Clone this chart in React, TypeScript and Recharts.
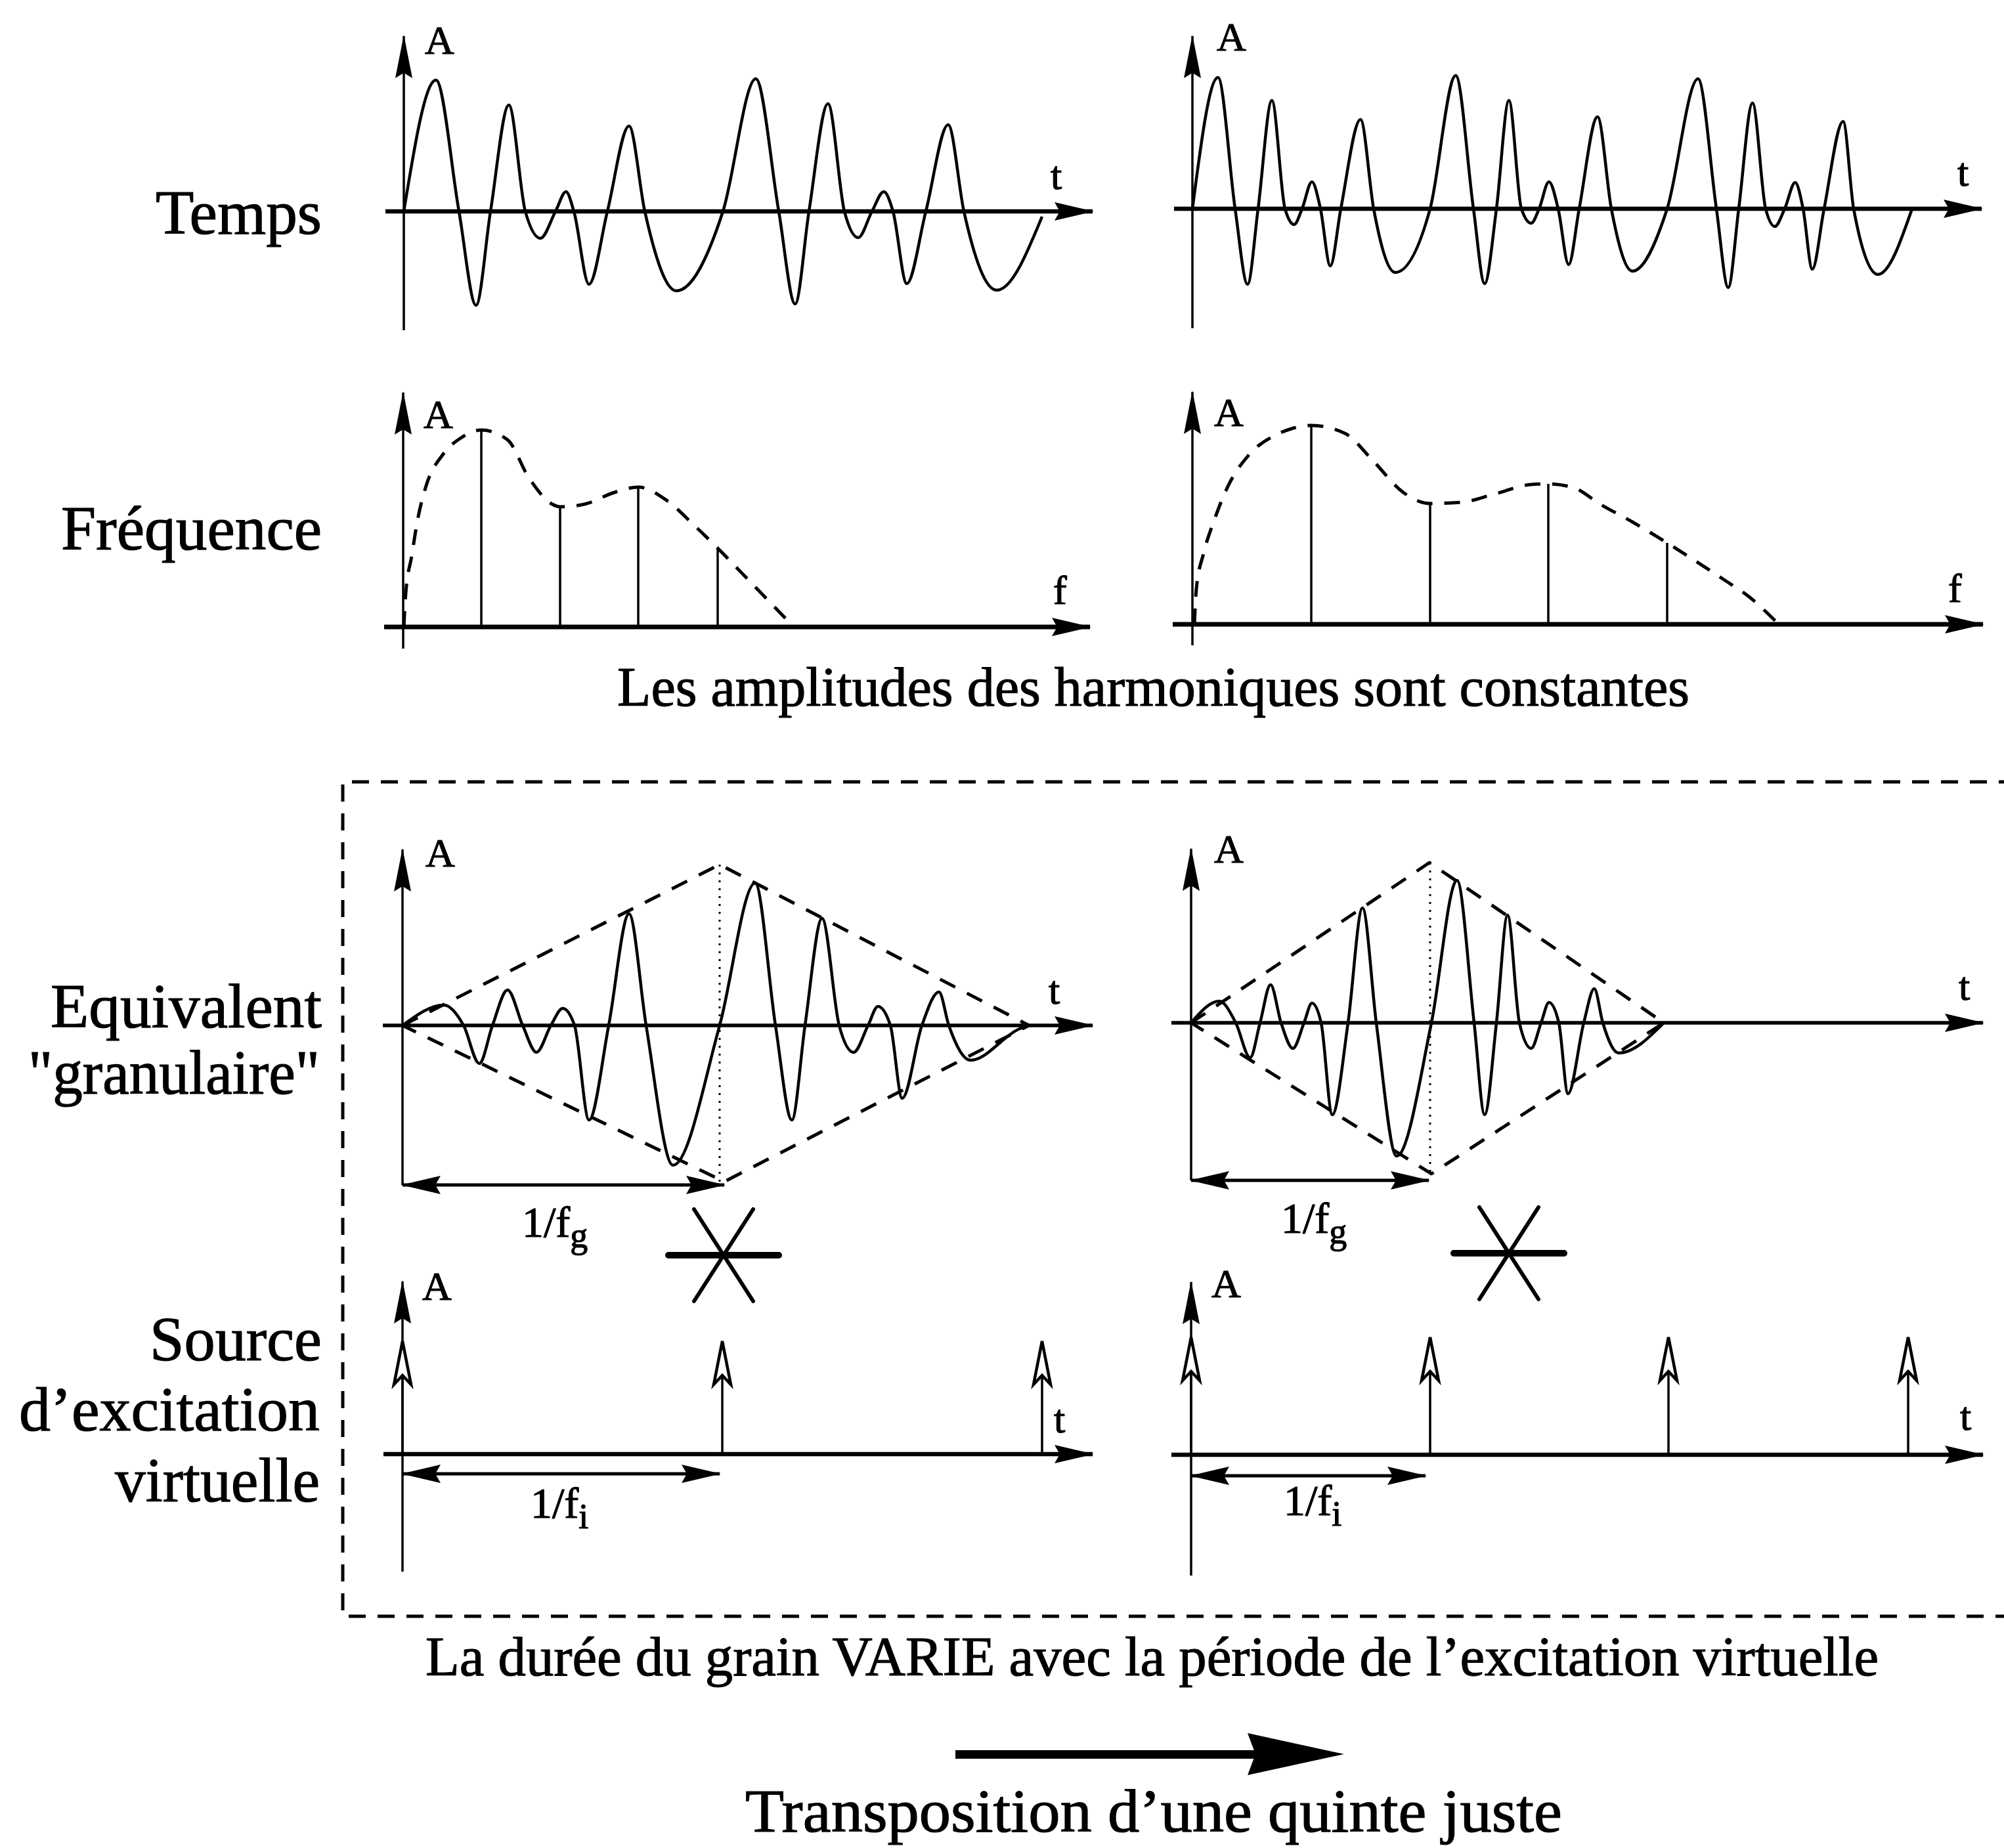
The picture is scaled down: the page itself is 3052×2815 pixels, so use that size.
import React from 'react';
import { ComposedChart, Line, Scatter, XAxis, YAxis } from 'recharts';

type Pt = { t: number; a: number };
const pts = (arr: number[][]): Pt[] => arr.map(([t, a]) => ({ t, a }));

// ---------- DATA (t = time / frequency units, a = amplitude units) ----------
const tempsLeft = pts([
  [0, 0], [0.49, 2.0], [0.84, 0], [1.1, -1.43], [1.32, 0], [1.6, 1.62], [1.85, 0], [2.08, -0.41],
  [2.31, 0], [2.47, 0.3], [2.59, 0], [2.82, -1.11], [3.1, 0], [3.43, 1.3], [3.67, 0], [4.15, -1.21],
  [4.86, 0], [5.36, 2.02], [5.71, 0], [5.96, -1.41], [6.17, 0], [6.46, 1.64], [6.71, 0], [6.92, -0.4],
  [7.13, 0], [7.31, 0.3], [7.45, 0], [7.66, -1.1], [7.95, 0], [8.29, 1.32], [8.53, 0], [9.03, -1.2],
  [9.72, -0.08],
]);
const tempsRight = pts([
  [0, 0], [0.39, 2.0], [0.65, 0], [0.84, -1.15], [1.0, 0], [1.21, 1.65], [1.41, 0], [1.55, -0.24],
  [1.67, 0], [1.82, 0.41], [1.95, 0], [2.1, -0.87], [2.26, 0], [2.56, 1.36], [2.76, 0], [3.09, -0.97],
  [3.62, 0], [4.01, 2.03], [4.28, 0], [4.45, -1.14], [4.63, 0], [4.82, 1.65], [5.01, 0], [5.16, -0.22],
  [5.28, 0], [5.43, 0.41], [5.57, 0], [5.73, -0.85], [5.89, 0], [6.17, 1.4], [6.38, 0], [6.7, -0.95],
  [7.23, 0], [7.7, 1.98], [7.98, 0], [8.16, -1.2], [8.32, 0], [8.53, 1.61], [8.73, 0], [8.87, -0.27],
  [9.02, 0], [9.18, 0.4], [9.3, 0], [9.44, -0.92], [9.62, 0], [9.91, 1.33], [10.07, 0], [10.44, -1.0],
  [10.96, 0],
]);

const freqLeftEnvelope = pts([
  [0.01, 0], [0.04, 0.52], [0.13, 1.08], [0.21, 1.58], [0.35, 2.15], [0.6, 2.62], [0.88, 2.88],
  [1.19, 3.0], [1.59, 2.85], [1.91, 2.28], [2.27, 1.87], [2.39, 1.83], [2.76, 1.87], [3.22, 2.05],
  [3.58, 2.13], [4.01, 1.93], [4.43, 1.55], [4.79, 1.2], [5.35, 0.62], [5.92, 0.03],
]);
const freqLeftHarmonics = pts([[1.19, 3.0], [2.39, 1.83], [3.58, 2.13], [4.79, 1.2]]);

const freqRightEnvelope = pts([
  [0.03, 0], [0.06, 0.54], [0.17, 1.08], [0.33, 1.58], [0.53, 2.08], [0.86, 2.58], [1.26, 2.88],
  [1.51, 2.98], [1.81, 3.03], [2.32, 2.91], [2.76, 2.48], [3.21, 2.01], [3.62, 1.84], [4.1, 1.86],
  [4.59, 1.98], [5.16, 2.13], [5.42, 2.14], [5.81, 2.08], [6.21, 1.83], [6.7, 1.56], [7.23, 1.24],
  [7.59, 1.01], [8.08, 0.69], [8.49, 0.41], [8.89, 0.04],
]);
const freqRightHarmonics = pts([[1.81, 3.03], [3.62, 1.84], [5.42, 2.14], [7.23, 1.24]]);

const grainLeft = pts([
  [0, 0], [0.63, 0.31], [0.93, 0], [1.17, -0.58], [1.37, 0], [1.6, 0.54], [1.83, 0], [2.04, -0.41],
  [2.26, 0], [2.44, 0.26], [2.62, 0], [2.84, -1.44], [3.14, 0], [3.45, 1.7], [3.71, 0], [4.12, -2.13],
  [4.83, 0], [5.37, 2.17], [5.68, 0], [5.93, -1.44], [6.13, 0], [6.39, 1.63], [6.65, 0], [6.87, -0.41],
  [7.09, 0], [7.24, 0.29], [7.43, 0], [7.61, -1.11], [7.91, 0], [8.17, 0.51], [8.32, 0], [8.65, -0.53],
  [9.4, -0.05], [9.54, 0],
]);
const grainLeftEnvelope = pts([[0, 0], [4.83, 2.45], [9.54, 0], [4.9, -2.38], [0, 0]]);
const grainLeftCentre = pts([[4.83, 2.45], [4.83, -2.4]]);
const grainLeftPeriod = 4.9;

const grainRight = pts([
  [0, 0], [0.43, 0.33], [0.68, 0], [0.9, -0.53], [1.05, 0], [1.21, 0.58], [1.37, 0], [1.55, -0.39],
  [1.72, 0], [1.84, 0.3], [1.98, 0], [2.15, -1.4], [2.39, 0], [2.61, 1.75], [2.82, 0], [3.13, -2.03],
  [3.66, 0], [4.05, 2.17], [4.31, 0], [4.47, -1.4], [4.65, 0], [4.82, 1.64], [5.0, 0], [5.18, -0.39],
  [5.33, 0], [5.45, 0.31], [5.6, 0], [5.74, -1.08], [5.98, 0], [6.14, 0.52], [6.27, 0], [6.51, -0.46],
  [7.2, 0],
]);
const grainRightEnvelope = pts([[0, 0], [3.63, 2.44], [7.2, 0], [3.66, -2.3], [0, 0]]);
const grainRightCentre = pts([[3.64, 2.44], [3.64, -2.32]]);
const grainRightPeriod = 3.62;

const sourceLeftImpulses = [0, 4.87, 9.74];
const sourceLeftHeight = 1.72;
const sourceLeftPeriod = 4.83;
const sourceRightImpulses = [0, 3.64, 7.27, 10.92];
const sourceRightHeight = 1.79;
const sourceRightPeriod = 3.57;

// ---------- DRAWING HELPERS ----------
const INK = '#000';
const PX = 100; // pixels per data unit
const HL = 58;
const HW = 14;

const HeadRight = (p: any) => (
  <polygon points={`${p.cx + 2},${p.cy} ${p.cx - HL},${p.cy - HW} ${p.cx - HL + 8},${p.cy} ${p.cx - HL},${p.cy + HW}`} fill={INK} />
);
const HeadLeft = (p: any) => (
  <polygon points={`${p.cx - 2},${p.cy} ${p.cx + HL},${p.cy - HW} ${p.cx + HL - 8},${p.cy} ${p.cx + HL},${p.cy + HW}`} fill={INK} />
);
const HeadUp = (p: any) => (
  <polygon points={`${p.cx},${p.cy - 2} ${p.cx - 13},${p.cy + HL + 6} ${p.cx},${p.cy + HL - 2} ${p.cx + 13},${p.cy + HL + 6}`} fill={INK} />
);
const OpenHeadUp = (p: any) => (
  <polygon
    points={`${p.cx},${p.cy} ${p.cx - 13},${p.cy + 66} ${p.cx},${p.cy + 52} ${p.cx + 13},${p.cy + 66}`}
    fill="#fff" stroke={INK} strokeWidth={4.5} strokeLinejoin="miter"
  />
);

const ln = (key: string, data: Pt[], w: number, opts: { type?: any; dash?: string } = {}) => (
  <Line
    key={key}
    data={data}
    dataKey="a"
    type={opts.type ?? 'linear'}
    stroke={INK}
    strokeWidth={w}
    strokeDasharray={opts.dash}
    dot={false}
    activeDot={false}
    isAnimationActive={false}
    legendType="none"
    strokeLinejoin="round"
  />
);
const hd = (key: string, data: Pt[], shape: any) => (
  <Scatter key={key} data={data} dataKey="a" shape={shape} isAnimationActive={false} legendType="none" />
);

const axes = (id: string, xr: number[], yr: number[], xw: number) => [
  ln(id + 'xa', pts([[xr[0], 0], [xr[1], 0]]), xw),
  ln(id + 'ya', pts([[0, yr[0]], [0, yr[1]]]), 3.5),
  hd(id + 'xh', pts([[xr[1], 0]]), HeadRight),
  hd(id + 'yh', pts([[0, yr[1]]]), HeadUp),
];

const span = (id: string, y: number, end: number) => [
  ln(id + 'sl', pts([[0, y], [end, y]]), 5),
  hd(id + 'sh1', pts([[0, y]]), HeadLeft),
  hd(id + 'sh2', pts([[end, y]]), HeadRight),
];

function Panel(props: { ox: number; oy: number; xr: number[]; yr: number[]; children: any }) {
  const { ox, oy, xr, yr, children } = props;
  const left = ox + xr[0] * PX;
  const top = oy - yr[1] * PX;
  const w = (xr[1] - xr[0]) * PX;
  const h = (yr[1] - yr[0]) * PX;
  return (
    <div style={{ position: 'absolute', left, top, width: w, height: h }}>
      <ComposedChart width={w} height={h} margin={{ top: 0, right: 0, bottom: 0, left: 0 }}>
        <XAxis type="number" dataKey="t" domain={[xr[0], xr[1]]} hide allowDataOverflow />
        <YAxis type="number" dataKey="a" domain={[yr[0], yr[1]]} hide allowDataOverflow />
        {children}
      </ComposedChart>
    </div>
  );
}

const Star = ({ cx, cy }: { cx: number; cy: number }) => (
  <g stroke={INK} strokeLinecap="round">
    <line x1={cx - 84} y1={cy} x2={cx + 84} y2={cy} strokeWidth={10} />
    <line x1={cx - 45} y1={cy + 70} x2={cx + 45} y2={cy - 70} strokeWidth={6} />
    <line x1={cx + 45} y1={cy + 70} x2={cx - 45} y2={cy - 70} strokeWidth={6} />
  </g>
);

const rowLabels = [
  { s: 'Temps', right: 490, y: 356, w: 253 },
  { s: 'Fréquence', right: 490, y: 837, w: 397 },
  { s: 'Equivalent', right: 490, y: 1565, w: 413 },
  { s: '"granulaire"', right: 487, y: 1666, w: 444 },
  { s: 'Source', right: 490, y: 2072, w: 262 },
  { s: 'd\u2019excitation', right: 487, y: 2179, w: 458 },
  { s: 'virtuelle', right: 487, y: 2287, w: 312 },
];
const axisLabels = [
  { s: 'A', x: 647, y: 82 }, { s: 't', x: 1600, y: 288 },
  { s: 'A', x: 1853, y: 77 }, { s: 't', x: 2981, y: 283 },
  { s: 'A', x: 645, y: 652 }, { s: 'f', x: 1604, y: 920 },
  { s: 'A', x: 1849, y: 649 }, { s: 'f', x: 2967, y: 917 },
  { s: 'A', x: 648, y: 1320 }, { s: 't', x: 1597, y: 1529 },
  { s: 'A', x: 1849, y: 1314 }, { s: 't', x: 2983, y: 1523 },
  { s: 'A', x: 643, y: 1980 }, { s: 't', x: 1605, y: 2182 },
  { s: 'A', x: 1845, y: 1976 }, { s: 't', x: 2985, y: 2178 },
];
const periodLabels = [
  { sub: 'g', x: 795, y: 1884 },
  { sub: 'g', x: 1951, y: 1878 },
  { sub: 'i', x: 808, y: 2312 },
  { sub: 'i', x: 1955, y: 2308 },
];
const captions = [
  { s: 'Les amplitudes des harmoniques sont constantes', x: 940, y: 1075, w: 1633, fs: 85 },
  { s: 'La durée du grain VARIE avec la période de l\u2019excitation virtuelle', x: 648, y: 2552, w: 2213, fs: 85 },
  { s: 'Transposition d\u2019une quinte juste', x: 1135, y: 2790, w: 1244, fs: 94 },
];

const FONT = "'Liberation Serif', 'Times New Roman', 'DejaVu Serif', serif";
const textStyle = { fontFamily: FONT } as const;

export default function App() {
  return (
    <div style={{ position: 'absolute', left: 0, top: 0, width: 3052, height: 2815, background: '#fff', overflow: 'hidden' }}>
      {/* Temps */}
      <Panel ox={615} oy={322} xr={[-0.6, 10.8]} yr={[-2.0, 2.9]}>
        {axes('tl', [-0.28, 10.49], [-1.81, 2.67], 6.5)}
        {ln('tlw', tempsLeft, 4.5, { type: 'monotone' })}
      </Panel>
      <Panel ox={1816} oy={318} xr={[-0.6, 12.2]} yr={[-2.0, 2.9]}>
        {axes('tr', [-0.28, 12.02], [-1.82, 2.63], 6.5)}
        {ln('trw', tempsRight, 4.5, { type: 'monotone' })}
      </Panel>

      {/* Fréquence */}
      <Panel ox={614} oy={955} xr={[-0.6, 10.8]} yr={[-0.5, 3.8]}>
        {axes('fl', [-0.29, 10.46], [-0.33, 3.57], 7)}
        {freqLeftHarmonics.map((h, i) => ln('flh' + i, [{ t: h.t, a: 0 }, h], 3.5))}
        {ln('fle', freqLeftEnvelope, 5, { type: 'monotone', dash: '24 18' })}
      </Panel>
      <Panel ox={1816} oy={951} xr={[-0.6, 12.2]} yr={[-0.5, 3.8]}>
        {axes('fr', [-0.3, 12.04], [-0.32, 3.54], 7)}
        {freqRightHarmonics.map((h, i) => ln('frh' + i, [{ t: h.t, a: 0 }, h], 3.5))}
        {ln('fre', freqRightEnvelope, 5, { type: 'monotone', dash: '24 18' })}
      </Panel>

      {/* Equivalent granulaire */}
      <Panel ox={613} oy={1562} xr={[-0.6, 10.8]} yr={[-2.7, 2.9]}>
        {axes('gl', [-0.3, 10.51], [-2.43, 2.68], 5.5)}
        {ln('glc', grainLeftCentre, 3, { dash: '3 9' })}
        {ln('gle', grainLeftEnvelope, 5, { dash: '26 20' })}
        {ln('glw', grainLeft, 4.5, { type: 'monotone' })}
        {span('gls', -2.43, grainLeftPeriod)}
      </Panel>
      <Panel ox={1814} oy={1558} xr={[-0.6, 12.2]} yr={[-2.7, 2.9]}>
        {axes('gr', [-0.3, 12.06], [-2.4, 2.65], 5.5)}
        {ln('grc', grainRightCentre, 3, { dash: '3 9' })}
        {ln('gre', grainRightEnvelope, 5, { dash: '26 20' })}
        {ln('grw', grainRight, 4.5, { type: 'monotone' })}
        {span('grs', -2.4, grainRightPeriod)}
      </Panel>

      {/* Source d'excitation virtuelle */}
      <Panel ox={613} oy={2215} xr={[-0.6, 10.8]} yr={[-2.0, 2.9]}>
        {axes('sl', [-0.29, 10.51], [-1.79, 2.63], 6.5)}
        {sourceLeftImpulses.map((t, i) => ln('sli' + i, pts([[t, 0], [t, sourceLeftHeight]]), 3.5))}
        {hd('slh', sourceLeftImpulses.map((t) => ({ t, a: sourceLeftHeight })), OpenHeadUp)}
        {span('sls', -0.3, sourceLeftPeriod)}
      </Panel>
      <Panel ox={1814} oy={2216} xr={[-0.6, 12.2]} yr={[-2.0, 2.9]}>
        {axes('sr', [-0.3, 12.06], [-1.84, 2.63], 6.5)}
        {sourceRightImpulses.map((t, i) => ln('sri' + i, pts([[t, 0], [t, sourceRightHeight]]), 3.5))}
        {hd('srh', sourceRightImpulses.map((t) => ({ t, a: sourceRightHeight })), OpenHeadUp)}
        {span('srs', -0.32, sourceRightPeriod)}
      </Panel>

      {/* Text, frame and decorations */}
      <svg width={3052} height={2815} style={{ position: 'absolute', left: 0, top: 0, pointerEvents: 'none', ...textStyle }}>
        <path d="M 3070 1191 H 522 V 2462 H 3070" fill="none" stroke={INK} strokeWidth={5} strokeDasharray="26 18" />
        <g fill={INK} stroke={INK} strokeWidth={1.2} style={textStyle}>
          {rowLabels.map((l) => (
            <text key={l.s} x={l.right} y={l.y} textAnchor="end" fontSize={96} textLength={l.w} lengthAdjust="spacingAndGlyphs">
              {l.s}
            </text>
          ))}
          {axisLabels.map((l, i) => (
            <text key={'ax' + i} x={l.x} y={l.y} fontSize={62}>
              {l.s}
            </text>
          ))}
          {periodLabels.map((l, i) => (
            <text key={'pl' + i} x={l.x} y={l.y} fontSize={66}>
              1/f
              <tspan fontSize={54} dy={16}>{l.sub}</tspan>
            </text>
          ))}
          {captions.map((c) => (
            <text key={c.s} x={c.x} y={c.y} fontSize={c.fs} textLength={c.w} lengthAdjust="spacingAndGlyphs">
              {c.s}
            </text>
          ))}
        </g>
        <Star cx={1102} cy={1912} />
        <Star cx={2298} cy={1909} />
        <rect x={1455} y={2666} width={460} height={13} fill={INK} />
        <polygon points="1900,2640 2047,2672 1900,2704 1912,2672" fill={INK} />
      </svg>
    </div>
  );
}
